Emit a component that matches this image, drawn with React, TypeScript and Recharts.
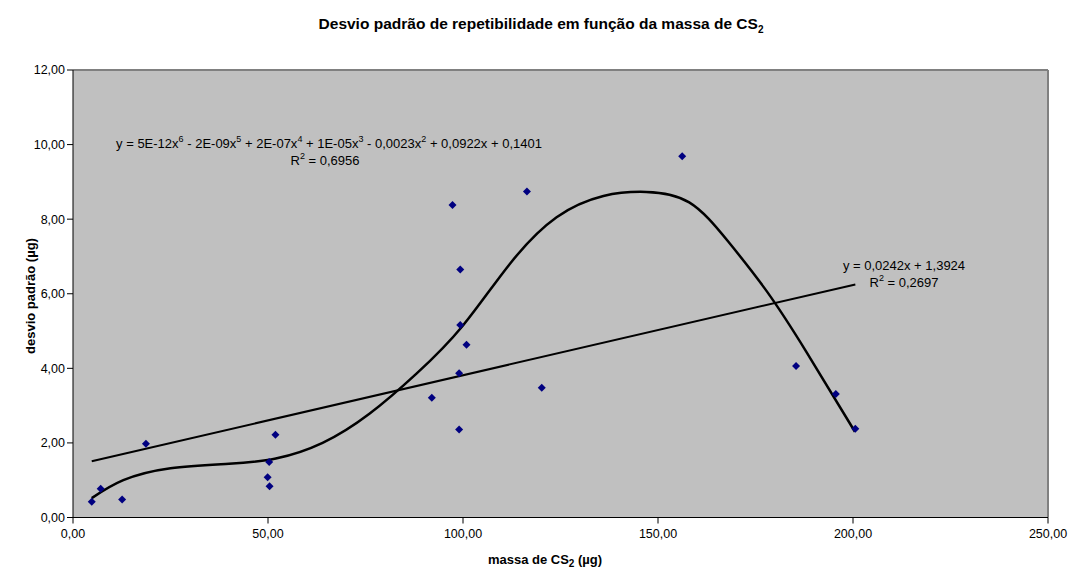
import React from 'react';
import {
  ScatterChart,
  Scatter,
  XAxis,
  YAxis,
  CartesianGrid,
  ReferenceLine,
} from 'recharts';

// measured points: massa de CS2 (µg) vs desvio padrão (µg)
const massa = [4.8, 7.1, 12.6, 18.7, 49.9, 50.4, 50.3, 51.9, 97.3, 99.3, 99.3, 100.9, 99.0, 92.0, 99.0, 116.4, 120.2, 156.2, 185.4, 195.6, 200.6];
const desvio = [0.42, 0.77, 0.48, 1.98, 1.08, 0.84, 1.49, 2.22, 8.38, 6.65, 5.16, 4.63, 3.87, 3.21, 2.36, 8.74, 3.48, 9.69, 4.06, 3.31, 2.38];

// polynomial trend line
const polyX = [4.8, 12.9, 25, 40, 52, 64, 76, 88, 100, 112, 124, 136, 147, 158, 168, 178, 188, 200.5];
const polyY = [0.52, 1.0, 1.32, 1.44, 1.58, 2.0, 2.78, 3.85, 5.15, 6.8, 8.05, 8.62, 8.73, 8.45, 7.4, 6.05, 4.45, 2.3];

// linear trend line end points
const linX = [4.8, 200.6];
const linY = [1.51, 6.25];

const xTicks = [0, 50, 100, 150, 200, 250];
const yTicks = [0, 2, 4, 6, 8, 10, 12];

const points = massa.map((x, i) => ({ x, y: desvio[i] }));
const poly = polyX.map((x, i) => ({ x, y: polyY[i] }));
const lin = linX.map((x, i) => ({ x, y: linY[i] }));

const fmt = (v: number) => v.toFixed(2).replace('.', ',');

const Diamond = (props: any) => {
  const { cx, cy } = props;
  if (cx == null || cy == null) return <g />;
  const r = 4;
  return (
    <path
      d={`M${cx},${cy - r}L${cx + r},${cy}L${cx},${cy + r}L${cx - r},${cy}Z`}
      fill="#000080"
    />
  );
};

const NoDot = () => <g />;

const sup = (t: string) => (
  <span style={{ fontSize: 9, verticalAlign: 'super', lineHeight: 0 }}>{t}</span>
);
const sub = (t: string) => (
  <span style={{ fontSize: 10, verticalAlign: 'sub', lineHeight: 0 }}>{t}</span>
);

const abs = (left: number, top: number, extra: React.CSSProperties = {}): React.CSSProperties => ({
  position: 'absolute',
  left,
  top,
  transform: 'translate(-50%, -50%)',
  whiteSpace: 'nowrap',
  lineHeight: 1,
  pointerEvents: 'none',
  ...extra,
});

export default function App() {
  return (
    <div
      style={{
        position: 'absolute',
        left: 0,
        top: 0,
        width: 1069,
        height: 567,
        background: '#fff',
        fontFamily: '"Liberation Sans", Arial, sans-serif',
        color: '#000',
      }}
    >
      <ScatterChart width={1069} height={567} margin={{ top: 70, right: 21, bottom: 0, left: 0 }}>
        <CartesianGrid fill="#C0C0C0" horizontal={false} vertical={false} />
        <XAxis
          type="number"
          dataKey="x"
          domain={[0, 250]}
          ticks={xTicks}
          tickFormatter={fmt}
          height={49.5}
          stroke="#000"
          tick={{ fill: '#000', fontSize: 12.5 }}
          tickMargin={6}
        />
        <YAxis
          type="number"
          dataKey="y"
          domain={[0, 12]}
          ticks={yTicks}
          tickFormatter={fmt}
          width={73}
          stroke="#000"
          tick={{ fill: '#000', fontSize: 12.5 }}
        />
        <ReferenceLine y={12} stroke="#808080" strokeWidth={2} />
        <ReferenceLine x={250} stroke="#808080" strokeWidth={2} />
        <Scatter
          data={lin}
          line={{ stroke: '#000', strokeWidth: 2 }}
          shape={NoDot}
          isAnimationActive={false}
        />
        <Scatter
          data={poly}
          line={{ stroke: '#000', strokeWidth: 2.5 }}
          lineJointType="natural"
          shape={NoDot}
          isAnimationActive={false}
        />
        <Scatter data={points} shape={Diamond} isAnimationActive={false} />
      </ScatterChart>

      <div style={abs(541, 24, { fontWeight: 'bold', fontSize: 15.5 })}>
        Desvio padrão de repetibilidade em função da massa de CS{sub('2')}
      </div>
      <div style={abs(545, 559, { fontWeight: 'bold', fontSize: 13 })}>
        massa de CS{sub('2')} (µg)
      </div>
      <div style={abs(30, 296, { fontWeight: 'bold', fontSize: 13, transform: 'translate(-50%, -50%) rotate(-90deg)' })}>
        desvio padrão (µg)
      </div>
      <div style={abs(329, 143, { fontSize: 13 })}>
        y = 5E-12x{sup('6')} - 2E-09x{sup('5')} + 2E-07x{sup('4')} + 1E-05x{sup('3')} - 0,0023x{sup('2')} + 0,0922x + 0,1401
      </div>
      <div style={abs(325, 160, { fontSize: 13 })}>R{sup('2')} = 0,6956</div>
      <div style={abs(904, 265, { fontSize: 13 })}>y = 0,0242x + 1,3924</div>
      <div style={abs(904, 282, { fontSize: 13 })}>R{sup('2')} = 0,2697</div>
    </div>
  );
}
